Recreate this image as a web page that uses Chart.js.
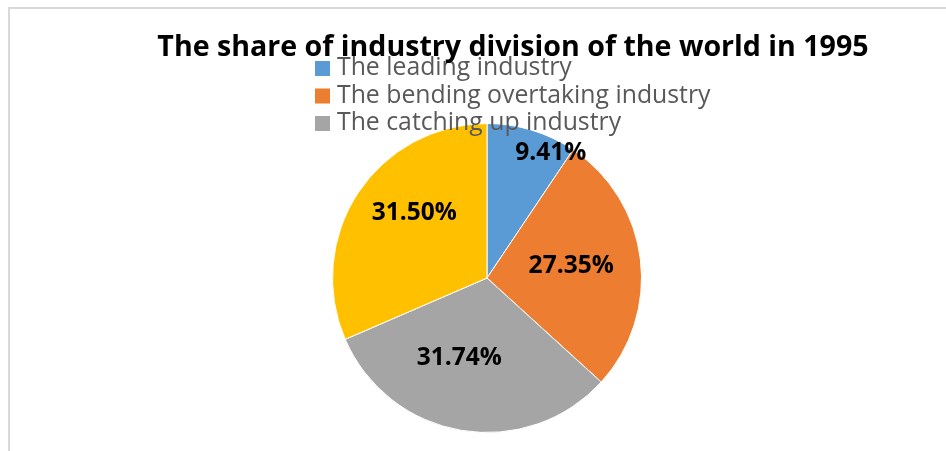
<!DOCTYPE html>
<html>
<head>
<meta charset="utf-8">
<title>Industry division 1995</title>
<script src="https://cdn.jsdelivr.net/npm/chart.js@4/dist/chart.umd.min.js"></script>
<style>
  html, body { margin: 0; padding: 0; background: #fff; overflow: hidden; }
  #wrap { position: relative; width: 946px; height: 451px; }
  #frame {
    position: absolute; left: 8px; top: 7px; width: 1000px; height: 1000px;
    border: 2px solid #d9d9d9; box-sizing: border-box;
  }
  canvas { position: absolute; left: 0; top: 0; }
</style>
</head>
<body>
<div id="wrap">
  <div id="frame"></div>
  <canvas id="pieChart" width="946" height="451"></canvas>
</div>
<script>
// Share of each industry group (percent)
const industries = [
    'The leading industry',
    'The bending overtaking industry',
    'The catching up industry',
    'The lagging industry'
];
const shares = [9.41, 27.35, 31.74, 31.50];
const sliceColors = ['#5b9bd5', '#ed7d31', '#a5a5a5', '#ffc000'];

// Only the first three entries fit in the legend box
const legendCount = 3;

// Where each percentage sits inside its slice: fraction of radius, angle nudge (deg)
const labelRadius = [0.91, 0.55, 0.55, 0.63];
const labelNudge = [10, -1, 9.5, 8.4];

const chartTitle = 'The share of industry division of the world in 1995';

// Draws the percentages on the slices
const sliceLabels = {
    id: 'sliceLabels',
    afterDatasetsDraw(chart) {
        const ctx = chart.ctx;
        const arcs = chart.getDatasetMeta(0).data;
        ctx.save();
        ctx.font = 'bold 24.5px "Open Sans"';
        ctx.fillStyle = '#000';
        ctx.textAlign = 'center';
        ctx.textBaseline = 'middle';
        arcs.forEach((arc, i) => {
            const mid = (arc.startAngle + arc.endAngle) / 2 + labelNudge[i] * Math.PI / 180;
            const r = arc.outerRadius * labelRadius[i];
            const x = arc.x + Math.cos(mid) * r;
            const y = arc.y + Math.sin(mid) * r;
            ctx.fillText(shares[i].toFixed(2) + '%', x, y);
        });
        ctx.restore();
    }
};

// Legend and title are laid over the plot, the way the spreadsheet placed them
const overlayText = {
    id: 'overlayText',
    afterDraw(chart) {
        const ctx = chart.ctx;
        ctx.save();
        ctx.textBaseline = 'middle';
        ctx.textAlign = 'left';
        ctx.font = '24.8px "Open Sans"';
        for (let i = 0; i < legendCount; i++) {
            const y = 68 + i * 27.5;
            ctx.fillStyle = sliceColors[i];
            ctx.fillRect(315, y - 7, 15, 15);
            ctx.fillStyle = '#595959';
            ctx.fillText(industries[i], 337, y);
        }
        ctx.font = 'bold 28.6px "Open Sans"';
        ctx.fillStyle = '#000';
        ctx.textAlign = 'center';
        ctx.fillText(chartTitle, 513, 48);
        ctx.restore();
    }
};

new Chart(document.getElementById('pieChart').getContext('2d'), {
    type: 'pie',
    data: {
        labels: industries,
        datasets: [{
            data: shares,
            backgroundColor: sliceColors,
            borderColor: '#ffffff',
            borderWidth: 1
        }]
    },
    options: {
        responsive: false,
        animation: false,
        layout: {
            padding: { top: 123, bottom: 18, left: 28, right: 0 }
        },
        plugins: {
            legend: { display: false },
            title: { display: false },
            tooltip: { enabled: false }
        }
    },
    plugins: [sliceLabels, overlayText]
});
</script>
</body>
</html>
